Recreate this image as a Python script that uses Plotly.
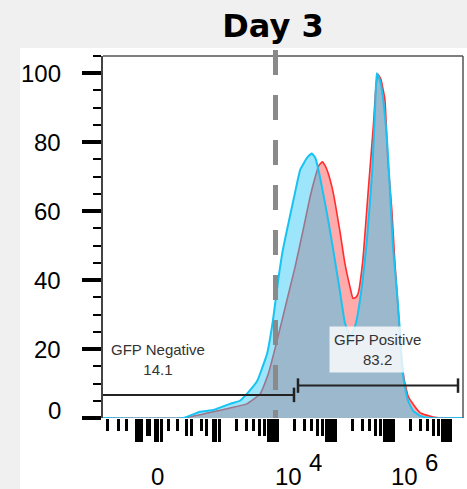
import math
import plotly.graph_objects as go

# ---------------- data ----------------
# x positions are in display decades of the biexponential axis (10^k sits at k)
red_u = [1.0, 2.38, 2.50, 2.90, 3.19, 3.48, 3.71, 3.85, 4.00, 4.17,
         4.31, 4.45, 4.57, 4.66, 4.72, 4.78, 4.83, 4.88, 4.97, 5.09,
         5.17, 5.26, 5.31, 5.36, 5.40, 5.48, 5.57, 5.66, 5.71, 5.74,
         5.79, 5.86, 5.91, 5.98, 6.03, 6.09, 6.14, 6.19, 6.26, 6.33,
         6.47, 6.69, 6.81, 7.21]
red_y = [0, 0, 0.3, 1.8, 2.9, 4.1, 7.0, 12.8, 22.4, 34.1,
         43.7, 54.5, 64.1, 70.0, 73.2, 74.3, 73.2, 71.1, 65.3, 53.6,
         44.9, 37.9, 34.7, 35.0, 36.2, 45.8, 65.3, 84.5, 96.8, 99.7,
         98.3, 92.4, 74.9, 60.3, 45.8, 31.2, 19.5, 11.4, 6.4, 4.4,
         1.5, 0.3, 0, 0]

blue_u = [1.0, 2.38, 2.67, 2.90, 3.19, 3.36, 3.48, 3.66, 3.74, 3.83,
          3.93, 4.02, 4.10, 4.22, 4.31, 4.40, 4.52, 4.60, 4.66, 4.74,
          4.86, 4.97, 5.09, 5.17, 5.26, 5.35, 5.43, 5.55, 5.64, 5.69,
          5.72, 5.78, 5.83, 5.90, 5.95, 6.00, 6.07, 6.12, 6.16, 6.21,
          6.26, 6.35, 6.47, 6.64, 7.21]
blue_y = [0, 0, 1.8, 2.3, 4.1, 5.0, 7.0, 10.8, 14.3, 18.7,
          28.3, 39.9, 48.7, 58.3, 65.3, 72.0, 75.5, 76.7, 75.5, 70.0,
          59.5, 48.7, 36.2, 27.7, 23.6, 26.8, 34.1, 51.6, 71.1, 89.5,
          100, 97.7, 92.4, 79.9, 65.3, 49.6, 36.2, 25.0, 14.0, 8.7,
          5.0, 2.0, 0.6, 0, 0]

# gates
gate_names = ["GFP Negative", "GFP Positive"]
gate_pct = [14.1, 83.2]
gate_lo = [0.8, 4.362]
gate_hi = [4.293, 7.121]

threshold_u = 3.974

# axis ticks (display decades)
decades = [3, 4, 5, 6, 7]
low_short = [1.086, 1.259, 1.397, 2.121, 2.276, 2.690]
low_medium = [1.759, 1.810, 2.431, 2.534, 2.793]
low_long = [1.569, 1.621, 1.672, 1.897, 1.948, 2.0, 2.897, 2.948]

x_label_pos = [1.931, 4, 6]
x_label_base = ["0", "10", "10"]
x_label_exp = ["", "4", "6"]

y_ticks = [0, 20, 40, 60, 80, 100]

# ---------------- derived tick sets ----------------
short_ticks = low_short + [k + math.log10(m) for k in decades[:-1] for m in (2, 3, 4)]
medium_ticks = low_medium + [k + math.log10(m) for k in decades[:-1] for m in (5, 6)]
long_ticks = low_long + decades + [k + math.log10(m) for k in decades[:-1] for m in (7, 8, 9)]

XR = [1.0, 7.207]
FONT = "Liberation Sans, Arial, sans-serif"

fig = go.Figure()
fig.add_trace(go.Scatter(x=red_u, y=red_y, mode="lines", fill="tozeroy",
                         line=dict(color="#ff2d2d", width=1.6, shape="spline", smoothing=0.4),
                         fillcolor="rgba(255,0,0,0.33)", hoverinfo="skip", showlegend=False))
fig.add_trace(go.Scatter(x=blue_u, y=blue_y, mode="lines", fill="tozeroy",
                         line=dict(color="#18c2f2", width=2, shape="spline", smoothing=0.4),
                         fillcolor="rgba(45,200,245,0.47)", hoverinfo="skip", showlegend=False))
# empty traces to carry overlay tick axes
fig.add_trace(go.Scatter(x=[], y=[], xaxis="x2", yaxis="y", showlegend=False, hoverinfo="skip"))
fig.add_trace(go.Scatter(x=[], y=[], xaxis="x3", yaxis="y", showlegend=False, hoverinfo="skip"))

common_x = dict(range=XR, showgrid=False, zeroline=False, showline=False,
                showticklabels=False, ticks="outside", tickmode="array",
                tickwidth=3, tickcolor="black", fixedrange=True)
fig.update_layout(
    width=467, height=489,
    margin=dict(l=103, r=4, t=56, b=71),
    paper_bgcolor="#f0f0f0", plot_bgcolor="white",
    xaxis=dict(common_x, tickvals=long_ticks, ticklen=23),
    xaxis2=dict(common_x, tickvals=medium_ticks, ticklen=17, overlaying="x", anchor="y", side="bottom"),
    xaxis3=dict(common_x, tickvals=short_ticks, ticklen=12, overlaying="x", anchor="y", side="bottom"),
    yaxis=dict(range=[0, 105], tickvals=y_ticks, ticks="outside", ticklen=19, tickwidth=4,
               tickcolor="black", showline=True, linecolor="#444", linewidth=1.5,
               showgrid=False, zeroline=False, showticklabels=False,
               minor=dict(dtick=5, ticks="outside", ticklen=8, tickwidth=2, tickcolor="black")),
    title=dict(text="<b>Day 3</b>", font=dict(family="DejaVu Sans", size=32, color="black"),
               x=273 / 467, xref="container", xanchor="center",
               y=1 - 26 / 489, yref="container", yanchor="middle"),
    showlegend=False,
)

# white panel behind chart
fig.add_shape(type="rect", xref="paper", yref="paper",
              x0=(20 - 103) / 360, x1=(467 - 103) / 360, y0=(418 - 489) / 362, y1=(418 - 48) / 362,
              fillcolor="white", line=dict(width=0), layer="below")
# frame top and right
fig.add_shape(type="line", xref="paper", yref="paper", x0=0, x1=1, y0=1, y1=1,
              line=dict(color="#555", width=1.5))
fig.add_shape(type="line", xref="paper", yref="paper", x0=1, x1=1, y0=0, y1=1,
              line=dict(color="#555", width=1.5))
# threshold dashed line
fig.add_shape(type="line", xref="x", yref="paper", x0=threshold_u, x1=threshold_u,
              y0=1 + 6 / 362, y1=0, line=dict(color="#8a8a8a", width=5, dash="25px,20px"))

# gates
gate_level = [6.7, 9.4]
cap = 2.1
label_pos = [(1.948, 17.0), (5.741, 19.9)]
for i in range(len(gate_names)):
    lv = gate_level[i]
    fig.add_shape(type="line", xref="x", yref="y", x0=gate_lo[i], x1=gate_hi[i], y0=lv, y1=lv,
                  line=dict(color="#222", width=2))
    for xe in (gate_lo[i], gate_hi[i]):
        fig.add_shape(type="line", xref="x", yref="y", x0=xe, x1=xe, y0=lv - cap, y1=lv + cap,
                      line=dict(color="#222", width=2.5))
    lx, ly = label_pos[i]
    fig.add_annotation(x=lx, y=ly, xref="x", yref="y", showarrow=False,
                       text=f"{gate_names[i]}<br>{gate_pct[i]}",
                       font=dict(family=FONT, size=15, color="#333"),
                       bgcolor="rgba(255,255,255,0.8)", borderpad=4)

# y tick labels (the 0 label sits slightly raised in the original)
for v in y_ticks:
    fig.add_annotation(x=0, y=v, xref="paper", yref="y", text=str(v), showarrow=False,
                       xanchor="right", yanchor="middle", xshift=-40,
                       yshift=8 if v == 0 else 0,
                       font=dict(family=FONT, size=24, color="black"))

# x tick labels
for pos, base, ex in zip(x_label_pos, x_label_base, x_label_exp):
    if ex:
        fig.add_annotation(x=pos, y=0, xref="x", yref="paper", text=base, showarrow=False,
                           xshift=11.5, yshift=-58, yanchor="middle",
                           font=dict(family=FONT, size=24, color="black"))
        fig.add_annotation(x=pos, y=0, xref="x", yref="paper", text=ex, showarrow=False,
                           xshift=38.5, yshift=-44, yanchor="middle",
                           font=dict(family=FONT, size=24, color="black"))
    else:
        fig.add_annotation(x=pos, y=0, xref="x", yref="paper", text=base, showarrow=False,
                           yshift=-58, yanchor="middle",
                           font=dict(family=FONT, size=24, color="black"))

fig.write_html("out.html")
